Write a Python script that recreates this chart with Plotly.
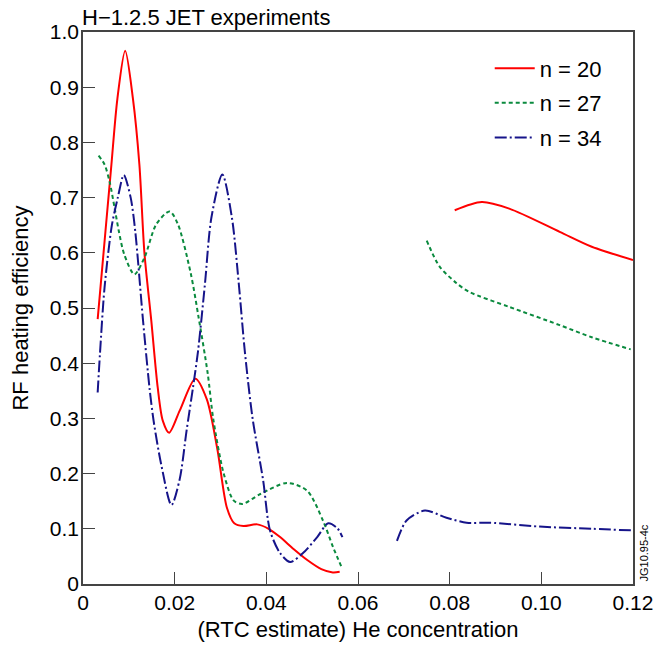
import plotly.graph_objects as go

# ---- data (None marks the gap in each curve) ----
x_n20 = [0.0032, 0.0049, 0.0062, 0.0075, 0.0092, 0.0109, 0.0123, 0.0134, 0.0149, 0.0163,
         0.0174, 0.0188, 0.0211, 0.0245, 0.0270, 0.0293, 0.0314, 0.0330, 0.0350,
         0.0380, 0.0405, 0.0430, 0.0460, 0.0490, 0.0520, 0.0545, 0.0560,
         None,
         0.0811, 0.0870, 0.0930, 0.1040, 0.1110, 0.1200]
y_n20 = [0.480, 0.639, 0.760, 0.879, 0.966, 0.879, 0.760, 0.600, 0.477, 0.356,
         0.296, 0.274, 0.314, 0.372, 0.335, 0.245, 0.138, 0.110, 0.105,
         0.108, 0.100, 0.085, 0.063, 0.043, 0.027, 0.021, 0.022,
         None,
         0.677, 0.692, 0.680, 0.638, 0.611, 0.587]

x_n27 = [0.0034, 0.0047, 0.0058, 0.0069, 0.0078, 0.0090, 0.0112, 0.0134, 0.0160, 0.0189,
         0.0207, 0.0235, 0.0252, 0.0272, 0.0284, 0.0307, 0.0329, 0.0348, 0.0387, 0.0445,
         0.0489, 0.0524, 0.0546, 0.0565,
         None,
         0.0750, 0.0778, 0.0815, 0.0843, 0.0930, 0.1040, 0.1110, 0.1195]
y_n27 = [0.776, 0.760, 0.729, 0.681, 0.640, 0.597, 0.561, 0.591, 0.652, 0.675,
         0.652, 0.563, 0.484, 0.382, 0.300, 0.200, 0.151, 0.145, 0.163, 0.183,
         0.169, 0.114, 0.066, 0.029,
         None,
         0.622, 0.575, 0.545, 0.529, 0.502, 0.469, 0.447, 0.425]

x_n34 = [0.0032, 0.0037, 0.0047, 0.0063, 0.0076, 0.0089, 0.0104, 0.0114, 0.0131, 0.0145,
         0.0154, 0.0171, 0.0193, 0.0211, 0.0226, 0.0240, 0.0251, 0.0266, 0.0280, 0.0304,
         0.0325, 0.0340, 0.0353, 0.0370, 0.0393, 0.0408, 0.0430, 0.0452, 0.0480, 0.0511,
         0.0535, 0.0555, 0.0566,
         None,
         0.0685, 0.0706, 0.0746, 0.0793, 0.0837, 0.0887, 0.0996, 0.1111, 0.1200]
y_n34 = [0.347, 0.417, 0.537, 0.650, 0.700, 0.741, 0.700, 0.639, 0.477, 0.356,
         0.296, 0.215, 0.143, 0.190, 0.278, 0.356, 0.422, 0.543, 0.663, 0.742,
         0.663, 0.543, 0.422, 0.300, 0.188, 0.097, 0.056, 0.040, 0.056, 0.085,
         0.110, 0.101, 0.085,
         None,
         0.078, 0.115, 0.133, 0.120, 0.111, 0.111, 0.104, 0.100, 0.097]

names = ["n = 20", "n = 27", "n = 34"]
x_ticks = [0, 0.02, 0.04, 0.06, 0.08, 0.10, 0.12]
x_tick_text = ["0", "0.02", "0.04", "0.06", "0.08", "0.10", "0.12"]
y_ticks = [0, 0.1, 0.2, 0.3, 0.4, 0.5, 0.6, 0.7, 0.8, 0.9, 1.0]
y_tick_text = ["0", "0.1", "0.2", "0.3", "0.4", "0.5", "0.6", "0.7", "0.8", "0.9", "1.0"]

FONT = "Liberation Sans, Arial, Helvetica, sans-serif"

fig = go.Figure()
styles = [
    dict(color="#ff0000", width=2, dash="solid"),
    dict(color="#0a8a3e", width=2, dash="4px,3px"),
    dict(color="#16148a", width=2, dash="12px,3px,2px,3px"),
]
for i, (xs, ys) in enumerate([(x_n20, y_n20), (x_n27, y_n27), (x_n34, y_n34)]):
    fig.add_trace(go.Scatter(
        x=xs, y=ys, mode="lines", name=names[i],
        line=dict(shape="spline", smoothing=0.8, **styles[i]),
        connectgaps=False, legendgroup=names[i],
    ))

fig.update_layout(
    width=656, height=645,
    margin=dict(l=83, r=23, t=32, b=61),
    paper_bgcolor="white", plot_bgcolor="white",
    font=dict(family=FONT, size=21, color="black"),
    showlegend=True,
    legend=dict(x=0.7395, y=0.972, xanchor="left", yanchor="top",
                bgcolor="rgba(0,0,0,0)", font=dict(size=22),
                tracegroupgap=3, itemwidth=40),
    annotations=[
        dict(text="H\u22121.2.5 JET experiments", xref="paper", yref="paper",
             x=0, y=1, xanchor="left", yanchor="bottom", yshift=0, xshift=-3,
             showarrow=False, font=dict(size=22)),
        dict(text="JG10.95-4c", xref="paper", yref="paper", x=1, y=0,
             xanchor="left", yanchor="bottom", xshift=2, showarrow=False,
             textangle=-90, font=dict(size=11)),
    ],
)
fig.update_xaxes(
    range=[0, 0.12], tickvals=x_ticks, ticktext=x_tick_text,
    ticks="inside", ticklen=12, tickwidth=1, tickcolor="#444",
    showline=True, linecolor="#444", linewidth=1.5, mirror=True,
    showgrid=False, zeroline=False, automargin=False, ticklabelstandoff=-1,
    title=dict(text="(RTC estimate) He concentration", font=dict(size=22), standoff=9),
    tickfont=dict(size=21),
)
fig.update_yaxes(
    range=[0, 1.0], tickvals=y_ticks, ticktext=y_tick_text,
    ticks="inside", ticklen=12, tickwidth=1, tickcolor="#444",
    showline=True, linecolor="#444", linewidth=1.5, mirror=True,
    showgrid=False, zeroline=False, automargin=False, ticklabelstandoff=-2,
    title=dict(text="RF heating efficiency", font=dict(size=22), standoff=15),
    tickfont=dict(size=21),
)

fig.write_html("out.html", config={"displayModeBar": False},
               post_script="document.body.style.margin='0px';document.body.style.overflow='hidden';")
